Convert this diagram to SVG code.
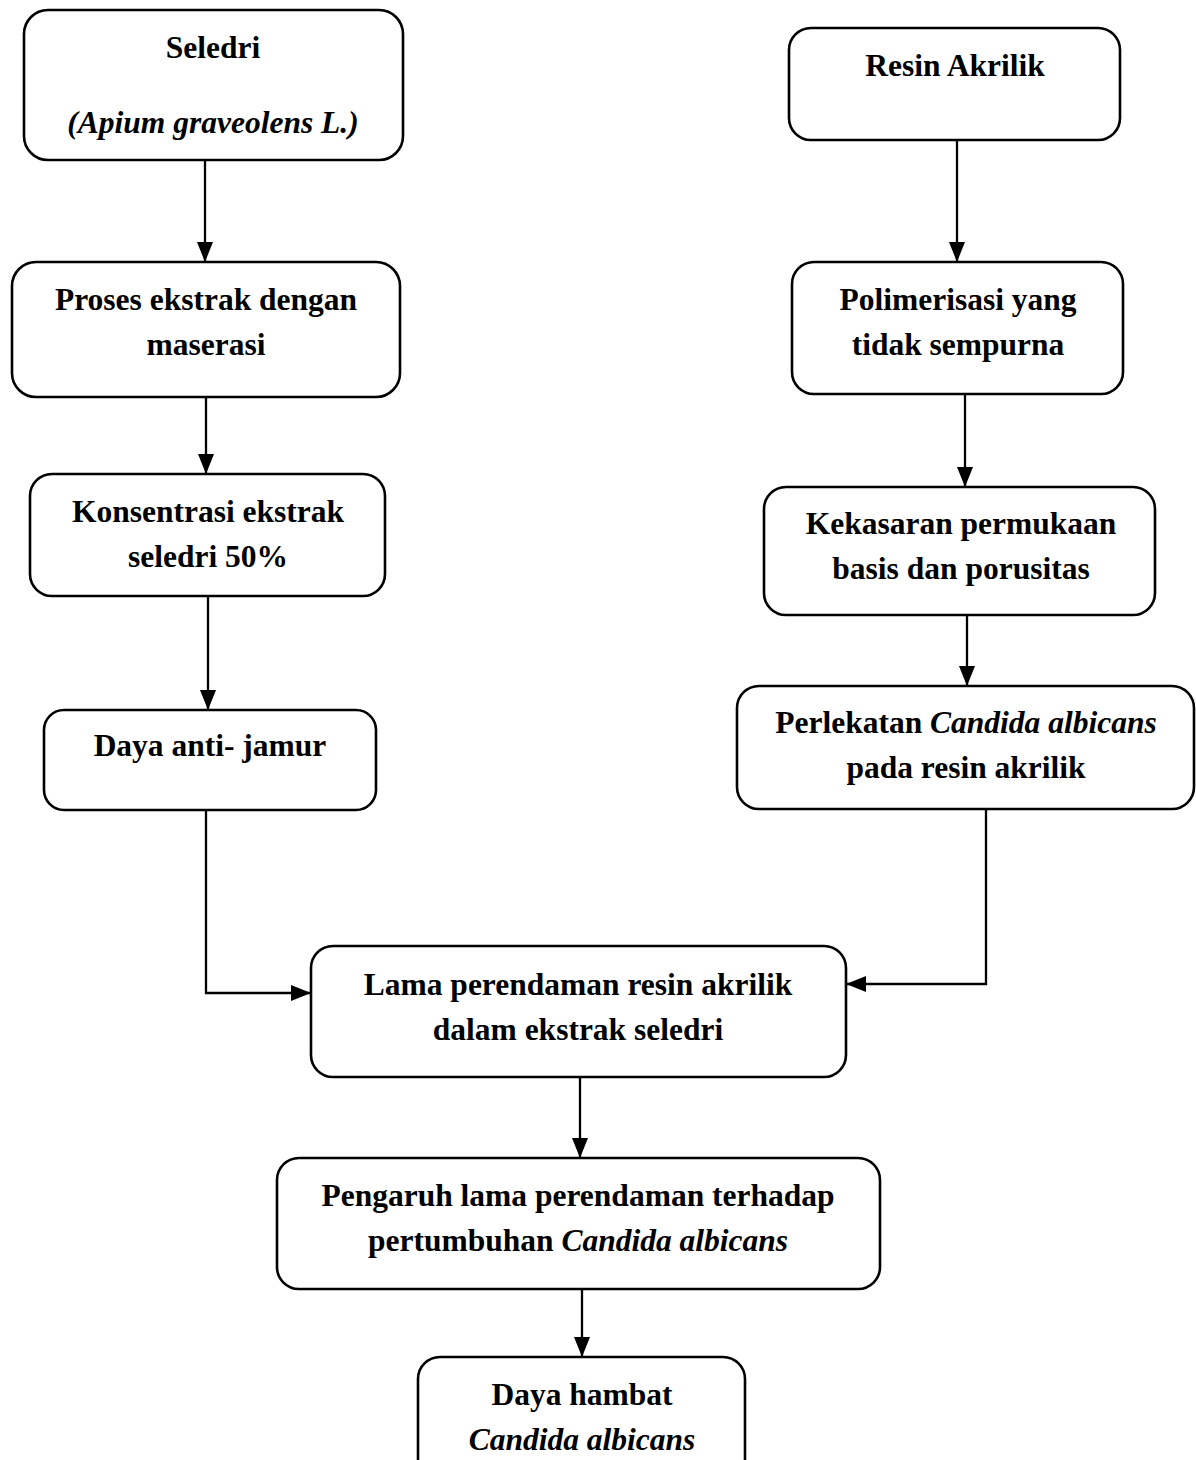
<svg xmlns="http://www.w3.org/2000/svg" width="1196" height="1460" viewBox="0 0 1196 1460">
<style>
.box{fill:#fff;stroke:#000;stroke-width:2.6}
.t{font-family:"Liberation Serif","Times New Roman",serif;font-size:31.5px;font-weight:bold;fill:#000;text-anchor:middle}
.i{font-style:italic}
.c{fill:none;stroke:#000;stroke-width:2.3}
</style>
<defs>
<marker id="a" viewBox="0 0 20 16" refX="20" refY="8" markerWidth="20" markerHeight="16" markerUnits="userSpaceOnUse" orient="auto">
<path d="M0,0 L20,8 L0,16 z" fill="#000"/>
</marker>
</defs>
<rect width="1196" height="1460" fill="#fff"/>
<g id="connectors">
<path class="c" d="M205,160 V262" marker-end="url(#a)"/>
<path class="c" d="M206,397 V474" marker-end="url(#a)"/>
<path class="c" d="M208,596 V710" marker-end="url(#a)"/>
<path class="c" d="M206,810 V993 H311" marker-end="url(#a)"/>
<path class="c" d="M957,140 V262" marker-end="url(#a)"/>
<path class="c" d="M965,394 V487" marker-end="url(#a)"/>
<path class="c" d="M967,615 V686" marker-end="url(#a)"/>
<path class="c" d="M986,809 V984 H846" marker-end="url(#a)"/>
<path class="c" d="M580,1077 V1158" marker-end="url(#a)"/>
<path class="c" d="M582,1289 V1357" marker-end="url(#a)"/>
</g>
<g id="n1"><rect class="box" x="24" y="10" width="379" height="150" rx="24"/>
<text class="t" x="213" y="58">Seledri</text>
<text class="t i" x="213" y="133">(Apium graveolens L.)</text></g>
<g id="n2"><rect class="box" x="789" y="28" width="331" height="112" rx="22"/>
<text class="t" x="955" y="76">Resin Akrilik</text></g>
<g id="n3"><rect class="box" x="12" y="262" width="388" height="135" rx="24"/>
<text class="t" x="206" y="310">Proses ekstrak dengan</text>
<text class="t" x="206" y="355">maserasi</text></g>
<g id="n4"><rect class="box" x="792" y="262" width="331" height="132" rx="22"/>
<text class="t" x="958" y="310">Polimerisasi yang</text>
<text class="t" x="958" y="355">tidak sempurna</text></g>
<g id="n5"><rect class="box" x="30" y="474" width="355" height="122" rx="22"/>
<text class="t" x="208" y="522">Konsentrasi ekstrak</text>
<text class="t" x="208" y="567">seledri 50%</text></g>
<g id="n6"><rect class="box" x="764" y="487" width="391" height="128" rx="22"/>
<text class="t" x="961" y="534">Kekasaran permukaan</text>
<text class="t" x="961" y="579">basis dan porusitas</text></g>
<g id="n7"><rect class="box" x="44" y="710" width="332" height="100" rx="20"/>
<text class="t" x="210" y="756">Daya anti- jamur</text></g>
<g id="n8"><rect class="box" x="737" y="686" width="457" height="123" rx="22"/>
<text class="t" x="966" y="733">Perlekatan <tspan class="i">Candida albicans</tspan></text>
<text class="t" x="966" y="778">pada resin akrilik</text></g>
<g id="n9"><rect class="box" x="311" y="946" width="535" height="131" rx="22"/>
<text class="t" x="578" y="995">Lama perendaman resin akrilik</text>
<text class="t" x="578" y="1040">dalam ekstrak seledri</text></g>
<g id="n10"><rect class="box" x="277" y="1158" width="603" height="131" rx="22"/>
<text class="t" x="578" y="1206">Pengaruh lama perendaman terhadap</text>
<text class="t" x="578" y="1251">pertumbuhan <tspan class="i">Candida albicans</tspan></text></g>
<g id="n11"><rect class="box" x="418" y="1357" width="327" height="130" rx="22"/>
<text class="t" x="582" y="1405">Daya hambat</text>
<text class="t i" x="582" y="1450">Candida albicans</text></g>
</svg>
